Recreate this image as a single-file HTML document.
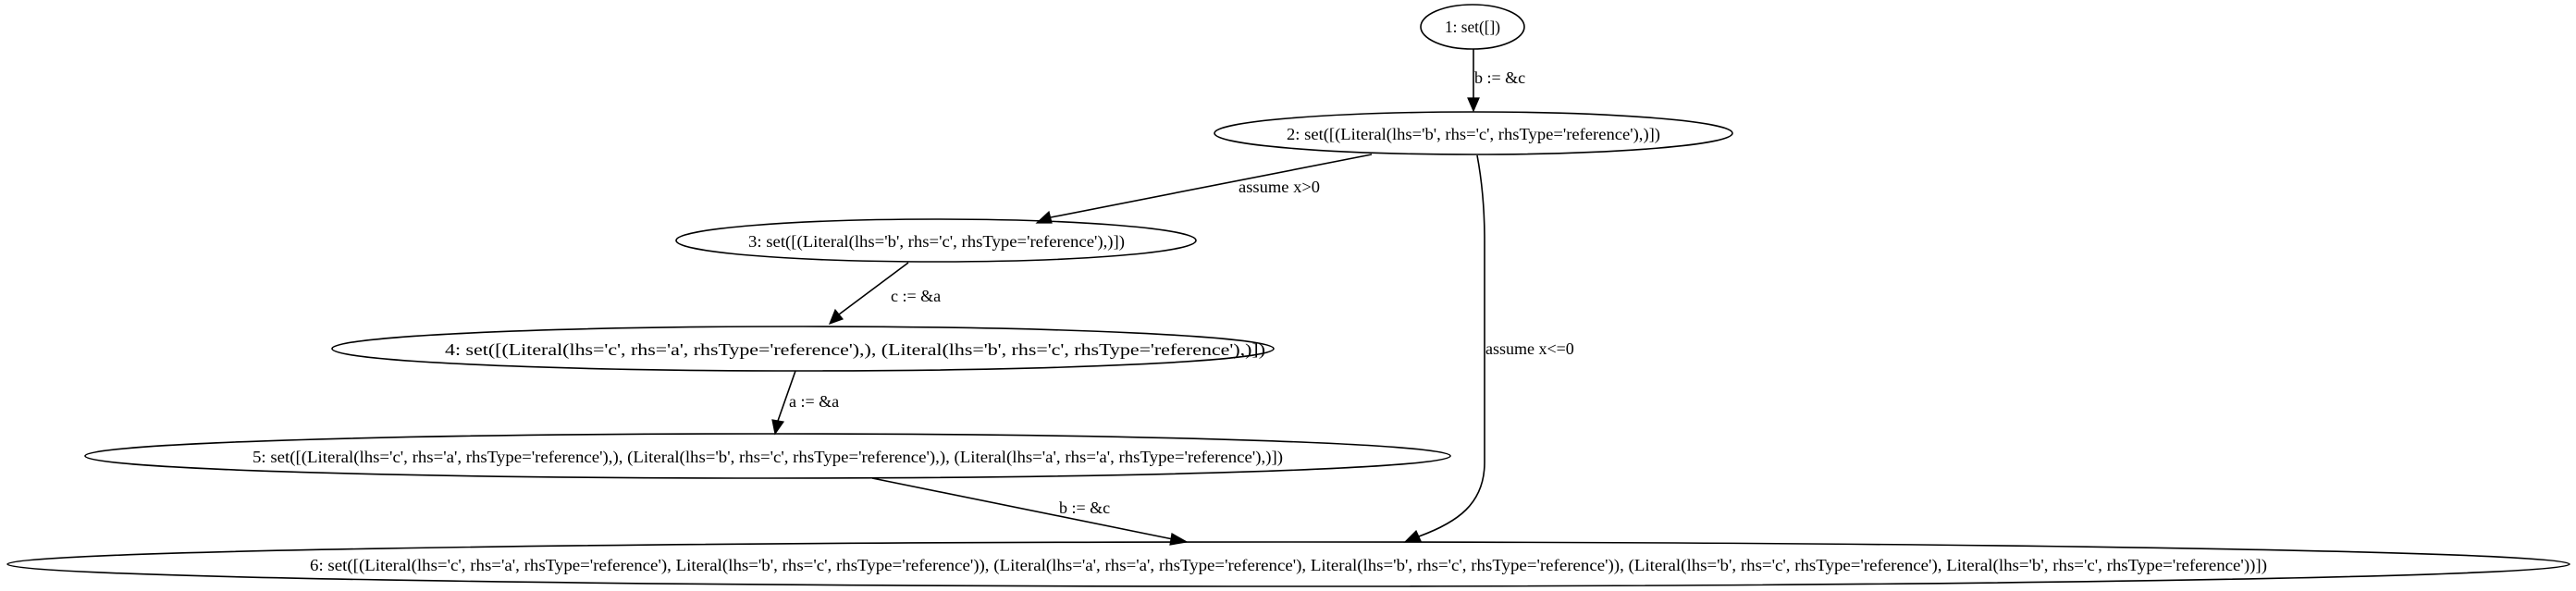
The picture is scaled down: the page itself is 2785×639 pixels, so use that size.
<!DOCTYPE html>
<html><head><meta charset="utf-8"><style>
html,body{margin:0;padding:0;background:#fff;}
svg{display:block;}
text{font-family:"Liberation Serif",serif;font-size:18px;fill:#000;}
</style></head><body>
<svg width="2785" height="639" viewBox="0 0 2785 639" xmlns="http://www.w3.org/2000/svg">
<rect width="2785" height="639" fill="#fff"/>
<g fill="none" stroke="#000" stroke-width="1.6">
<ellipse cx="1592" cy="29" rx="56" ry="24"/>
<ellipse cx="1593" cy="144" rx="280" ry="23"/>
<ellipse cx="1012" cy="260" rx="281" ry="23"/>
<ellipse cx="868" cy="377" rx="509" ry="24"/>
<ellipse cx="830" cy="493" rx="738" ry="24"/>
<ellipse cx="1393" cy="610" rx="1385" ry="24"/>
<line x1="1593" y1="53" x2="1593" y2="106"/>
<line x1="1483" y1="167" x2="1136" y2="235"/>
<line x1="982" y1="284" x2="907" y2="340"/>
<line x1="860" y1="401" x2="841" y2="455"/>
<line x1="943" y1="517" x2="1268" y2="583"/>
<path d="M1597,168 C1603,200 1605,230 1605,260 L1605,500 C1605,545 1575,565 1534,580"/>
</g>
<g fill="#000" stroke="#000" stroke-width="1.2">
<polygon points="1587,106 1599,106 1593,120"/>
<polygon points="1134,229 1137,241 1121,241"/>
<polygon points="903,335 911,345 897,350"/>
<polygon points="835,454 847,456 838,469"/>
<polygon points="1267,577 1265,589 1283,586"/>
<polygon points="1531,574 1536,585 1519,586"/>
</g>
<text x="1562" y="35" textLength="60" lengthAdjust="spacingAndGlyphs">1: set([])</text>
<text x="1594" y="90">b := &amp;c</text>
<text x="1391" y="151" textLength="404" lengthAdjust="spacingAndGlyphs">2: set([(Literal(lhs='b', rhs='c', rhsType='reference'),)])</text>
<text x="1339" y="208" textLength="88" lengthAdjust="spacingAndGlyphs">assume x&gt;0</text>
<text x="1606" y="383">assume x&lt;=0</text>
<text x="809" y="267" textLength="407" lengthAdjust="spacingAndGlyphs">3: set([(Literal(lhs='b', rhs='c', rhsType='reference'),)])</text>
<text x="963" y="326">c := &amp;a</text>
<text x="481" y="384" textLength="887" lengthAdjust="spacingAndGlyphs">4: set([(Literal(lhs='c', rhs='a', rhsType='reference'),), (Literal(lhs='b', rhs='c', rhsType='reference'),)])</text>
<text x="853" y="440">a := &amp;a</text>
<text x="273" y="500" textLength="1114" lengthAdjust="spacingAndGlyphs">5: set([(Literal(lhs='c', rhs='a', rhsType='reference'),), (Literal(lhs='b', rhs='c', rhsType='reference'),), (Literal(lhs='a', rhs='a', rhsType='reference'),)])</text>
<text x="1145" y="555">b := &amp;c</text>
<text x="335" y="617" textLength="2116" lengthAdjust="spacingAndGlyphs">6: set([(Literal(lhs='c', rhs='a', rhsType='reference'), Literal(lhs='b', rhs='c', rhsType='reference')), (Literal(lhs='a', rhs='a', rhsType='reference'), Literal(lhs='b', rhs='c', rhsType='reference')), (Literal(lhs='b', rhs='c', rhsType='reference'), Literal(lhs='b', rhs='c', rhsType='reference'))])</text>
</svg>
</body></html>
